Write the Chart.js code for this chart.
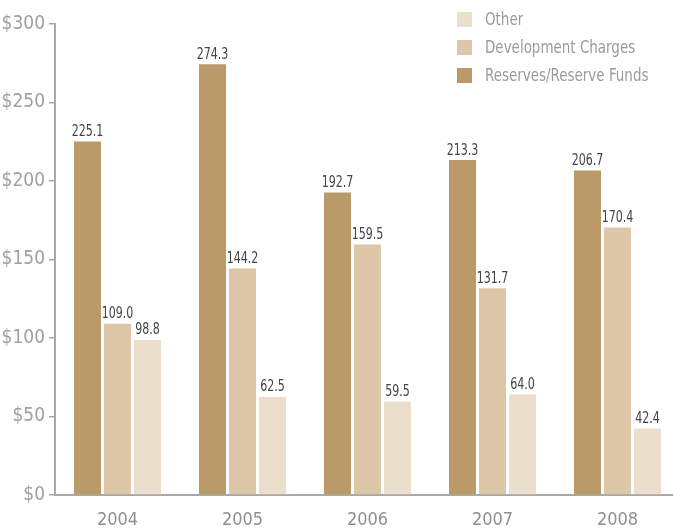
<!DOCTYPE html>
<html>
<head>
<meta charset="utf-8">
<script src="https://cdn.jsdelivr.net/npm/chart.js@4.4.1/dist/chart.umd.min.js"></script>
<style>
  html, body { margin: 0; padding: 0; background: #fff; overflow: hidden; }
  #wrap { position: relative; width: 673px; height: 529px; overflow: hidden; }
  #chart { position: absolute; left: 0; top: 0; }
  #legend { position: absolute; left: 457px; top: 5px; font-family: "Liberation Sans Narrow", "DejaVu Sans Condensed", "Roboto", sans-serif; font-size: 17px; color: #9a9a9a; }
  #legend .row { height: 28px; display: flex; align-items: center; }
  #legend .sw { width: 15px; height: 15px; margin-right: 13px; flex: none; }
  #legend .tx { display: inline-block; transform: scaleX(0.88); transform-origin: left center; white-space: nowrap; }
</style>
</head>
<body>
<div id="wrap">
  <canvas id="chart" width="680" height="529"></canvas>
  <div id="legend"></div>
</div>
<script>
// Funding sources by year ($ millions)
const years = ["2004", "2005", "2006", "2007", "2008"];
const reserves = [225.1, 274.3, 192.7, 213.3, 206.7];
const devCharges = [109.0, 144.2, 159.5, 131.7, 170.4];
const other = [98.8, 62.5, 59.5, 64.0, 42.4];
const yTicks = [0, 50, 100, 150, 200, 250, 300];

const FONT = "'Liberation Sans Narrow', 'DejaVu Sans Condensed', Roboto, sans-serif";

const datasets = [
  { label: "Reserves/Reserve Funds", data: reserves, backgroundColor: "#bb9a6a" },
  { label: "Development Charges", data: devCharges, backgroundColor: "#dec6a8" },
  { label: "Other", data: other, backgroundColor: "#ebdfcc" }
];

// value labels over each bar, squeezed a little horizontally
const barLabels = {
  id: "barLabels",
  afterDatasetsDraw(chart) {
    const ctx = chart.ctx;
    chart.data.datasets.forEach((ds, i) => {
      chart.getDatasetMeta(i).data.forEach((bar, j) => {
        ctx.save();
        ctx.translate(bar.x, bar.y - 2);
        ctx.scale(0.82, 1);
        ctx.font = "15px " + FONT;
        ctx.fillStyle = "#444";
        ctx.textAlign = "center";
        ctx.textBaseline = "bottom";
        ctx.fillText(ds.data[j].toFixed(1), 0, 0);
        ctx.restore();
      });
    });
  }
};

new Chart(document.getElementById("chart"), {
  type: "bar",
  data: { labels: years, datasets },
  options: {
    responsive: false,
    animation: false,
    layout: { padding: { top: 24, right: 0, left: 0, bottom: 0 } },
    plugins: { legend: { display: false }, tooltip: { enabled: false } },
    datasets: { bar: { categoryPercentage: 0.72, barPercentage: 0.9 } },
    scales: {
      x: {
        grid: { display: false },
        border: { color: "#a8a8a8", width: 2 },
        ticks: { color: "#8f8f8f", font: { family: FONT, size: 18 }, padding: 7 },
        afterFit(scale) { scale.height = 34; }
      },
      y: {
        min: 0,
        max: 300,
        afterBuildTicks(scale) { scale.ticks = yTicks.map(v => ({ value: v })); },
        grid: { drawOnChartArea: false, color: "#a8a8a8", tickLength: 6, lineWidth: 1.5 },
        border: { color: "#a8a8a8", width: 2 },
        ticks: {
          color: "#a0a0a0",
          font: { family: FONT, size: 19 },
          padding: 4,
          callback: v => "$" + v
        },
        afterFit(scale) { scale.width = 55; }
      }
    }
  },
  plugins: [barLabels]
});

// legend, listed top-down in reverse stacking order
const legend = document.getElementById("legend");
datasets.slice().reverse().forEach(ds => {
  const row = document.createElement("div");
  row.className = "row";
  row.innerHTML = `<span class="sw" style="background:${ds.backgroundColor}"></span><span class="tx">${ds.label}</span>`;
  legend.appendChild(row);
});
</script>
</body>
</html>
